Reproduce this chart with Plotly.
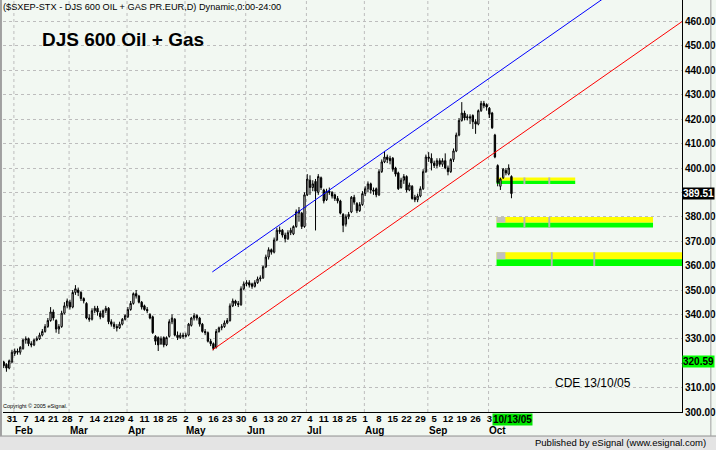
import numpy as np
import pandas as pd
import plotly.graph_objects as go

# ---------------- data ----------------
holidays = ["2005-03-25", "2005-03-28"]
dates = pd.bdate_range("2005-01-26", "2005-10-13")
dates = dates[~dates.isin(pd.to_datetime(holidays))]

opens = [
    320.5, 319.5, 318, 320.5, 324, 325, 324.5, 326, 329.5, 330,
    328, 327.5, 329.5, 330, 331.5, 333, 335, 337.5, 341, 337.5,
    334, 335, 340.5, 343.5, 345, 343, 349, 350, 349, 346.5,
    344.5, 338.5, 338, 341.5, 342.5, 340.5, 339, 341.5, 342.5, 337,
    336, 335, 334.5, 336, 338, 339, 342, 344.5, 348.5, 347.5,
    345, 343.5, 342, 340, 339, 331, 330.5, 328, 330.5, 327.5,
    331, 337, 338, 331.5, 330.5, 331.5, 331, 331.5, 335.5, 338.5,
    339.5, 338.5, 336, 333, 332.5, 329, 328, 326.5, 333, 334.5,
    335, 336.5, 337.5, 343.5, 345.5, 344.5, 344, 350.5, 352.5, 353,
    352.5, 351.5, 353, 354.5, 355, 359.5, 363.5, 366.5, 365.5, 370.5,
    374.5, 374.5, 372.5, 371, 373.5, 373, 376, 381.5, 381.5, 376,
    389, 395, 392, 394.5, 390, 396, 391, 387, 390.5, 390,
    389, 387.5, 386.5, 381, 377, 380, 382, 388, 385.5, 382.5,
    385, 389.5, 391.5, 393.5, 391, 391.5, 389, 398.5, 402.5, 404.5,
    404, 404, 400, 398, 392, 395, 396.5, 391, 392.5, 388,
    387, 388.5, 391.5, 398.5, 404.5, 404, 402, 401, 403, 401.5,
    403, 400, 398.5, 403.5, 407, 413.5, 419.5, 422.5, 420.5, 421,
    421.5, 419, 418, 423.5, 426.5, 426, 424.5, 422.5, 413.5, 401,
    392.5, 396, 399, 397.5, 396.5,
]
highs = [
    321, 320, 321.5, 325.5, 326, 326, 327, 330, 331, 330.5,
    329, 330, 331, 332.5, 334, 336, 338.5, 343, 342, 338,
    336, 341.5, 345, 346.5, 346, 350, 352, 351, 349.5, 347,
    345, 340, 342.5, 343.5, 343.5, 341.5, 342, 343.5, 343, 338,
    337, 336, 337, 338.5, 340, 343, 345.5, 349, 350, 348,
    345.5, 344, 343, 340.5, 339.5, 331.5, 331, 331, 331, 331,
    338, 340, 338.5, 333, 332.5, 332.5, 332.5, 336.5, 339, 340.5,
    340, 339, 336.5, 334, 333, 330, 328.5, 334, 335, 336,
    337.5, 338.5, 344.5, 346.5, 346, 345.5, 351.5, 353.5, 354, 354,
    353, 354, 355.5, 356, 360, 364.5, 367.5, 367, 371.5, 375.5,
    376, 375, 373.5, 374.5, 375.5, 376.5, 383, 384, 382, 390,
    397.5, 397, 395, 395.5, 397.5, 396.5, 391.5, 391.5, 392, 390.5,
    389.5, 388.5, 387, 381.5, 381, 382, 388.5, 389, 386, 386,
    390.5, 392.5, 394.5, 394, 392, 392, 399.5, 403.5, 407, 405.5,
    405, 404.5, 400.5, 398.5, 396, 397.5, 397, 394, 393, 389,
    389.5, 392.5, 399.5, 405.5, 406.5, 406, 403, 404, 404, 404,
    406, 401, 404, 408, 414.5, 420.5, 427, 423.5, 422, 422,
    422, 420, 424, 427.5, 427.5, 426.5, 425, 423, 414, 401.5,
    396, 400, 400, 401.5, 397,
]
lows = [
    318, 316.5, 317.5, 320, 323, 323.5, 323.5, 325.5, 328, 327,
    326.5, 327, 329, 329.5, 331, 332.5, 334.5, 337, 337.5, 332.5,
    332, 334.5, 340, 342.5, 342, 342.5, 348, 347.5, 345.5, 344.5,
    338, 337, 337.5, 340.5, 339.5, 338, 338.5, 340.5, 336, 335,
    334, 333, 334, 335.5, 337.5, 338.5, 341.5, 344, 346.5, 344.5,
    342, 341.5, 340.5, 338, 332, 327.5, 325, 327.5, 326.5, 327,
    330.5, 336, 331, 329.5, 330, 330, 330.5, 331, 335, 337.5,
    337.5, 335, 332.5, 331.5, 328.5, 327, 325.3, 326, 332.5, 333.5,
    334.5, 336, 337, 343, 343.5, 343, 343.5, 350, 351.5, 351,
    350.5, 351, 352.5, 353.5, 354.5, 359, 362.5, 364.5, 365, 370,
    373, 371.5, 369.5, 370.5, 372.5, 372.5, 375.5, 378, 375, 375.5,
    388.5, 389, 390.5, 374.4, 389, 391, 385.5, 386.5, 389, 387.5,
    386.5, 385.5, 381, 373.7, 376, 379, 381.5, 385, 381.5, 382,
    384.5, 388.5, 390, 389.5, 389, 388, 388.5, 398, 402, 402,
    401.5, 398.5, 396.5, 391, 391.5, 393.5, 390, 390.5, 387, 386,
    386, 388, 391, 398, 402.5, 399, 400, 400, 400.5, 400.5,
    399.5, 397, 398, 402.5, 406.5, 413, 419, 419.5, 419.5, 418,
    416, 414, 417.5, 423, 424.5, 423.5, 420.5, 416, 404, 392.5,
    391, 395.5, 397, 397, 387.6,
]
closes = [
    319, 318, 321, 324.5, 325, 324.5, 326.5, 329.5, 330, 328,
    327.5, 329.5, 330, 331.5, 333, 335, 337.5, 341, 338.5, 334,
    335, 340.5, 343.5, 345.5, 343, 349, 350.5, 349, 346.5, 345.5,
    338.5, 338, 341.5, 342.5, 341, 339, 341.5, 342.5, 337, 336,
    335, 334.5, 336, 338, 339.5, 342, 344.5, 348.5, 347.5, 345,
    343, 342, 341.5, 338.5, 332.5, 329, 327.5, 330, 327.5, 330.5,
    337, 338.5, 331.5, 330.5, 331.5, 331, 331.5, 336, 338.5, 339.5,
    338.5, 336, 333, 332.5, 329, 328, 326, 333, 334.5, 335,
    336.5, 337.5, 343.5, 345.5, 344.5, 344, 350.5, 352.5, 353, 352,
    351.5, 353, 354.5, 355, 359.5, 363.5, 366.5, 365.5, 370.5, 374.5,
    374, 372.5, 371, 373.5, 374.5, 376, 382, 382.5, 376, 389,
    395.5, 392, 393.5, 390.5, 396.5, 392, 386.5, 390.5, 390, 388.5,
    387.5, 386.5, 381.5, 376.5, 380, 381, 388, 386, 382.5, 385,
    389.5, 391.5, 393.5, 391, 390.5, 389, 398.5, 402.5, 404.5, 403.5,
    403, 399.5, 397.5, 391.5, 395, 396.5, 391, 393, 387.5, 387,
    388.5, 391.5, 398.5, 404.5, 404, 402, 401, 403, 401.5, 403,
    400, 398.5, 403.5, 407, 413.5, 419.5, 422.5, 420.5, 421, 420.5,
    419, 418, 423.5, 426.5, 425.5, 425, 422, 416.5, 404.5, 394,
    395.5, 399.5, 398, 400, 389.51,
]
assert len(opens) == len(highs) == len(lows) == len(closes) == len(dates), (
    len(opens), len(highs), len(lows), len(closes), len(dates))

y_ticks = list(range(300, 461, 10))

# trend channel anchors (bar position, price)
red_line_x = [75.6, 245.8]
red_line_y = [325.4, 460.0]
blue_line_x = [75.6, 245.8]
blue_line_y = [357.4, 492.0]

# projection bands: (yellow top, yellow/green split, green bottom)
band_levels = [(396.1, 394.8, 393.4), (379.9, 377.6, 375.6), (365.5, 362.6, 359.8)]
band_start = 178.6
band_end = [207.1, 235.3, 246.5]
band_grey_end = [None, 181.8, 181.8]
band_marks = [[188.7, 197.7], [188.7, 197.7], [198.6, 214.0]]

last_price = 389.51
other_price = 320.59

# ---------------- derived axis labels ----------------
idx = np.arange(len(dates))
week_pos, week_txt = [], []
month_pos, month_txt = [], []
for i in range(1, len(dates)):
    if dates[i].isocalendar()[1] != dates[i - 1].isocalendar()[1]:
        week_pos.append(i)
        # the last week's label sits under the current-date tag
        week_txt.append("" if i > len(dates) - 6 else str(dates[i].day))
    if dates[i].month != dates[i - 1].month:
        month_pos.append(i)
        month_txt.append(dates[i].strftime("%b"))

SANS = "Liberation Sans, Arial, sans-serif"
BG = "#F2F8F2"

# y labels hidden under the price tags
hidden = {round(last_price, -1), round(other_price, -1)}
y_text = ["" if v in hidden else f"{v:.2f}" for v in y_ticks]

fig = go.Figure()
fig.add_trace(go.Scatter(x=blue_line_x, y=blue_line_y, mode="lines",
                         line=dict(color="#0000FF", width=1), hoverinfo="skip", showlegend=False))
fig.add_trace(go.Scatter(x=red_line_x, y=red_line_y, mode="lines",
                         line=dict(color="#FF0000", width=1), hoverinfo="skip", showlegend=False))
fig.add_trace(go.Candlestick(
    x=idx, open=opens, high=highs, low=lows, close=closes,
    increasing=dict(line=dict(color="black", width=1), fillcolor="white"),
    decreasing=dict(line=dict(color="black", width=1), fillcolor="black"),
    whiskerwidth=0, showlegend=False))

shapes = []
for mp in month_pos:
    shapes.append(dict(type="line", xref="x", yref="paper", x0=mp - 0.3, x1=mp - 0.3, y0=0, y1=1,
                       line=dict(color="#BDBDBD", width=1, dash="dot"), layer="below"))
for k, (yt, ym, yb) in enumerate(band_levels):
    shapes.append(dict(type="rect", xref="x", yref="y", x0=band_start, x1=band_end[k], y0=ym, y1=yt,
                       fillcolor="#FFFF00", line=dict(width=0), layer="between"))
    shapes.append(dict(type="rect", xref="x", yref="y", x0=band_start, x1=band_end[k], y0=yb, y1=ym,
                       fillcolor="#00FF00", line=dict(width=0), layer="between"))
    if band_grey_end[k] is not None:
        shapes.append(dict(type="rect", xref="x", yref="y", x0=band_start, x1=band_grey_end[k], y0=ym, y1=yt,
                           fillcolor="#C0C0C0", line=dict(width=0), layer="between"))
    for m in band_marks[k]:
        shapes.append(dict(type="rect", xref="x", yref="y", x0=m - 0.35, x1=m + 0.35, y0=yb, y1=yt,
                           fillcolor="#B4B4B4", line=dict(width=0), layer="between"))
# bottom status bar
shapes.append(dict(type="rect", xref="paper", yref="paper", x0=-0.01, x1=1.06, y0=-0.1, y1=-0.0583,
                   fillcolor="#E4E4E4", line=dict(width=0)))
shapes.append(dict(type="line", xref="paper", yref="paper", x0=-0.01, x1=1.06, y0=-0.0583, y1=-0.0583,
                   line=dict(color="#909090", width=1)))
# frame
shapes.append(dict(type="line", xref="paper", yref="paper", x0=-0.0030, x1=-0.0030, y0=-0.0583, y1=1,
                   line=dict(color="#A0A0A0", width=2)))
shapes.append(dict(type="line", xref="paper", yref="paper", x0=1.0425, x1=1.0425, y0=-0.0583, y1=1,
                   line=dict(color="#A0A0A0", width=1)))

ann = []
ann.append(dict(text="($SXEP-STX - DJS 600 OIL + GAS PR.EUR,D) Dynamic,0:00-24:00", xref="paper", yref="paper",
                x=0, y=1, xanchor="left", yanchor="top", xshift=-2, yshift=0, showarrow=False,
                font=dict(family=SANS, size=9.2, color="black")))
ann.append(dict(text="DJS 600 Oil + Gas", xref="paper", yref="paper", x=0.0543, y=0.905,
                xanchor="left", yanchor="middle", showarrow=False,
                font=dict(family=SANS, size=19, color="black", weight="bold")))
ann.append(dict(text="CDE 13/10/05", xref="paper", yref="paper", x=0.8106, y=0.0704,
                xanchor="left", yanchor="middle", showarrow=False,
                font=dict(family=SANS, size=12, color="black")))
ann.append(dict(text="Copyright © 2005 eSignal.", xref="paper", yref="paper", x=0, y=0.0146,
                xanchor="left", yanchor="middle", showarrow=False, xshift=-2,
                font=dict(family=SANS, size=5.5, color="black")))
for mp, mt in zip(month_pos, month_txt):
    ann.append(dict(text=mt, xref="x", yref="paper", x=mp, y=0, xanchor="left", yanchor="top",
                    yshift=-11, xshift=-2, showarrow=False,
                    font=dict(family=SANS, size=10, color="black", weight="bold")))
ann.append(dict(text="10/13/05", xref="x", yref="paper", x=idx[-1], y=0, xanchor="center", yanchor="top",
                yshift=-1, xshift=1, showarrow=False, bgcolor="#00E600", borderpad=0,
                font=dict(family=SANS, size=10, color="black", weight="bold")))
ann.append(dict(text=f"{last_price:.2f}", xref="paper", yref="y", x=1, y=last_price, xanchor="left",
                yanchor="middle", showarrow=False, bgcolor="black", borderpad=0,
                font=dict(family=SANS, size=10, color="white", weight="bold")))
ann.append(dict(text=f"{other_price:.2f}", xref="paper", yref="y", x=1, y=other_price, xanchor="left",
                yanchor="middle", showarrow=False, bgcolor="#00FF00", borderpad=0,
                font=dict(family=SANS, size=10, color="black", weight="bold")))
ann.append(dict(text="Published by eSignal (www.esignal.com)", xref="paper", yref="paper", x=1.038, y=-0.0752,
                xanchor="right", yanchor="middle", showarrow=False,
                font=dict(family=SANS, size=9.5, color="black")))

fig.update_layout(
    width=716, height=450,
    margin=dict(l=3, r=32, t=0, b=38),
    paper_bgcolor=BG, plot_bgcolor=BG,
    showlegend=False,
    shapes=shapes, annotations=ann,
    xaxis=dict(range=[-0.25, 245.8], rangeslider=dict(visible=False), showgrid=False, zeroline=False,
               tickvals=week_pos, ticktext=week_txt, ticks="", ticklen=0, tickangle=0,
               ticklabelstandoff=-2, ticklabeloverflow="allow", showline=True, linecolor="black",
               linewidth=1, tickfont=dict(family=SANS, size=9.5, color="black", weight="bold")),
    yaxis=dict(range=[300, 468.85], side="right", tickvals=y_ticks, ticktext=y_text,
               showgrid=True, gridcolor="#BDBDBD", griddash="dot", gridwidth=1, zeroline=False,
               showline=True, linecolor="black", linewidth=1, ticks="", ticklen=0,
               tickfont=dict(family=SANS, size=10, color="black", weight="bold")),
)

fig.write_html("out.html", config={"displayModeBar": False},
               post_script="document.body.style.margin='0px';document.body.style.padding='0px';")
